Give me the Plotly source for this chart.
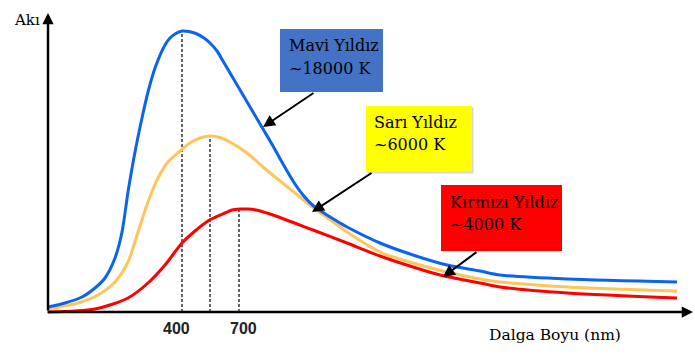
import plotly.graph_objects as go

W, H = 695, 356

# Curve data (x: wavelength position in arbitrary units, y: flux in arbitrary units)
blue_x = [0, 17, 34, 47, 57, 67, 74, 80, 87, 94, 100, 107, 117, 122, 127, 134, 141, 149, 156, 162, 169, 175, 185, 195, 205, 215, 225, 235, 245, 255, 265, 279, 292, 299, 332, 365, 399, 432, 452, 519, 629]
blue_y = [5, 9, 15, 24, 34, 54, 80, 120, 160, 194, 220, 244, 267, 274, 278, 281, 280.5, 278, 274, 269, 261, 251, 234, 217, 200, 183, 166, 148, 131, 117, 106.5, 97, 89, 85, 69, 57, 47, 41, 37, 33, 30]

orange_x = [0, 30, 50, 67, 80, 90, 100, 110, 120, 132, 142, 152, 162, 172, 182, 199, 215, 232, 249, 265, 279, 299, 332, 365, 399, 432, 452, 519, 629]
orange_y = [3, 9, 17, 30, 50, 80, 110, 134, 150, 161, 169, 174, 176, 174.5, 170, 159, 145, 131, 117.5, 104.5, 94.5, 80, 60, 49, 40, 33, 30, 25, 21]

red_x = [0, 47, 80, 100, 117, 134, 147, 160, 170, 177, 184, 192, 200, 208, 222, 249, 265, 299, 332, 365, 392, 432, 452, 519, 629]
red_y = [0, 3, 14, 29, 47, 69, 81, 91, 96, 99, 102, 103, 103, 102, 98, 88, 82, 69, 56, 45, 37, 29, 25, 19, 14]

peak_x = [134, 162, 191]
peak_y = [281, 176, 103]

tick_labels = ["400", "700"]
tick_pos = [128, 195]

box_titles = ["Mavi Yıldız", "Sarı Yıldız", "Kırmızı Yıldız"]
box_temps = ["~18000 K", "~6000 K", "~4000 K"]
box_colors = ["#4472C4", "#FFFF00", "#FF0000"]

# layout helpers (pixel -> paper)
def PX(x):
    return x / W

def PY(y):
    return 1 - y / H

fig = go.Figure()
fig.add_trace(go.Scatter(x=red_x, y=red_y, mode="lines", line=dict(color="#FF0000", width=3, shape="spline", smoothing=0.8), hoverinfo="skip"))
fig.add_trace(go.Scatter(x=orange_x, y=orange_y, mode="lines", line=dict(color="#FFC45A", width=3, shape="spline", smoothing=0.8), hoverinfo="skip"))
fig.add_trace(go.Scatter(x=blue_x, y=blue_y, mode="lines", line=dict(color="#0A64F0", width=3, shape="spline", smoothing=0.8), hoverinfo="skip"))

shapes = []
for px_, py_ in zip(peak_x, peak_y):
    shapes.append(dict(type="line", xref="x", yref="y", x0=px_, x1=px_, y0=0, y1=py_,
                       line=dict(color="#333333", width=1.5, dash="3px,2px"), layer="below"))

# boxes (pixel positions)
box_rects = [(280, 29, 383, 92), (366, 106, 472, 172), (441, 185, 562, 251)]
box_shadow = [False, True, False]
text_left = [287, 372, 448]
text_lines_y = [(45, 68), (122, 145), (202, 224)]
arrow_from = [(315, 92), (373, 172), (478, 251)]
arrow_to = [(263, 127), (312, 212), (443, 277)]

FONT_SERIF = "DejaVu Serif"

annotations = []
for i, (x0, y0, x1, y1) in enumerate(box_rects):
    if box_shadow[i]:
        shapes.append(dict(type="rect", xref="paper", yref="paper", x0=PX(x0 + 1.5), x1=PX(x1 + 1.5), y0=PY(y1 + 1.5), y1=PY(y0 + 1.5),
                           fillcolor="#b0b0b0", line=dict(width=0), opacity=0.5))
    shapes.append(dict(type="rect", xref="paper", yref="paper", x0=PX(x0), x1=PX(x1), y0=PY(y1), y1=PY(y0),
                       fillcolor=box_colors[i], line=dict(width=0)))
    for txt, ty in zip((box_titles[i], box_temps[i]), text_lines_y[i]):
        annotations.append(dict(xref="paper", yref="paper", x=PX(text_left[i]), y=PY(ty), xanchor="left", yanchor="middle",
                                align="left", showarrow=False, text=txt,
                                font=dict(family=FONT_SERIF, size=16, color="black")))
    fx, fy = arrow_from[i]
    ax_, ay_ = arrow_to[i]
    annotations.append(dict(xref="paper", yref="paper", x=PX(ax_), y=PY(ay_), axref="pixel", ayref="pixel",
                            ax=fx - ax_, ay=fy - ay_, showarrow=True, arrowhead=2, arrowsize=1.2, arrowwidth=2,
                            arrowcolor="black", text=""))

# axes with arrows
annotations.append(dict(xref="paper", yref="paper", x=PX(48), y=PY(13), ax=0, ay=299, axref="pixel", ayref="pixel",
                        showarrow=True, arrowhead=2, arrowsize=0.9, arrowwidth=2.5, arrowcolor="black", text=""))
annotations.append(dict(xref="paper", yref="paper", x=PX(693), y=PY(312), ax=-647, ay=0, axref="pixel", ayref="pixel",
                        showarrow=True, arrowhead=2, arrowsize=0.9, arrowwidth=2.5, arrowcolor="black", text=""))

annotations.append(dict(xref="paper", yref="paper", x=PX(12), y=PY(20), xanchor="left", yanchor="middle", showarrow=False,
                        text="Akı", font=dict(family=FONT_SERIF, size=15, color="black")))
annotations.append(dict(xref="paper", yref="paper", x=PX(555), y=PY(335), xanchor="center", yanchor="middle", showarrow=False,
                        text="Dalga Boyu (nm)", font=dict(family=FONT_SERIF, size=15.5, color="black")))
for lab, pos in zip(tick_labels, tick_pos):
    annotations.append(dict(xref="x", yref="paper", x=pos, y=PY(328), xanchor="center", yanchor="middle", showarrow=False,
                            text="<b>" + lab + "</b>", font=dict(family="Liberation Sans", size=16, color="#222222")))

fig.update_layout(
    width=W, height=H, margin=dict(l=0, r=0, t=0, b=0),
    paper_bgcolor="white", plot_bgcolor="white", showlegend=False,
    xaxis=dict(range=[-48, W - 48], visible=False, fixedrange=True),
    yaxis=dict(range=[-44, 312], visible=False, fixedrange=True),
    shapes=shapes, annotations=annotations,
)

fig.write_html("out.html", config={"displayModeBar": False},
               post_script="document.body.style.margin='0';document.body.style.overflow='hidden';")
